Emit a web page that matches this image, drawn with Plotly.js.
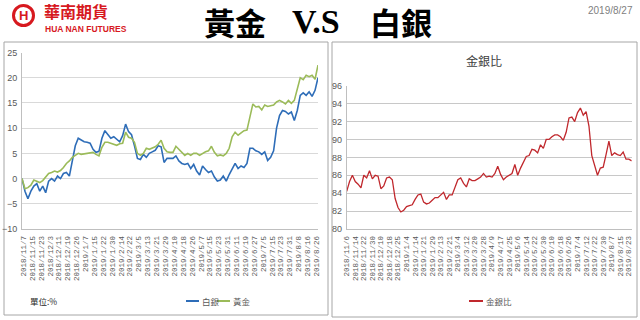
<!DOCTYPE html>
<html>
<head>
<meta charset="utf-8">
<script src="https://cdn.plot.ly/plotly-3.0.1.min.js"></script>
<style>html,body{margin:0;padding:0;background:#fff}#chart{width:640px;height:320px}</style>
</head>
<body>
<div id="chart"></div>
<script>
// ---- data (cumulative % change since 2018/11/6, sampled every 2 trading days) ----
const sampleStep = 2;
const silverPct = [0,-2.5,-4,-2.5,-1.5,-1,-2.5,-1.5,-2.8,-0.5,
  0,-0.5,0.5,0,1,1.2,0.5,3.5,6.5,8,
  7.6,7.3,7.2,7,5.8,5.2,5.4,8,9.5,8.8,
  8,8.3,7.8,7.3,8.5,10.8,9.3,8.7,6.5,4,
  3.8,4.8,4.2,5,5.3,5.6,6.5,6.3,3.2,4,
  4,4,4.5,3.5,3,2.8,3,2,2.8,1.5,
  0.7,2.5,1.8,1.2,1.5,0.3,-0.5,-0.3,0.5,-0.5,
  0.8,2,3,2,2.5,2.2,3,6,6,5.5,
  5.3,4.8,5.3,3.6,4.2,5.5,10,12.5,13.5,13.3,
  12.8,13.2,11.5,13.5,16.5,17,16.5,17.2,16.3,17.5,
  20];
const goldPct = [0,-2,-1.8,-1.3,-0.3,-0.5,-0.8,-0.4,0.3,1,
  1.2,1.5,1.3,1.6,2.2,3,3.5,4.2,4.6,5,
  4.8,4.9,5,5,5.2,4.8,4.5,6.2,7.2,7.2,
  7,6.8,6.6,6.9,7,9.2,8.2,8,7.2,5,
  4.6,5,6,5.8,6,6.3,6.8,7.6,6,5.3,
  5.2,5.2,6.4,5.8,5,4.6,5,4.6,5,5,
  4.6,5,5.3,5.5,6.4,5.2,4.5,4.7,4.5,5,
  6,8.3,9.2,8.6,9,9.5,9.6,12.5,14.8,14.2,
  14.3,13.6,14.6,14.3,14.5,14.6,15.2,15.5,15.2,14.8,
  15.5,14.9,15.5,17.5,20,19.6,20.5,20.2,20.5,19.7,
  22.5];
const goldSilverRatio = [84.2,85.3,86,85.3,85,84.6,86,85.7,86.5,85.6,
  86,85.9,84.5,84.8,85.7,85.8,85.5,83.4,82.4,81.9,
  82.1,82.5,82.6,82.7,83.3,83.8,83.9,83,82.8,82.9,
  83.2,83.5,83.5,83.8,84.1,83.3,83.8,83.8,84.6,85.5,
  85.7,85.1,84.7,85.6,85.4,85.4,85.6,85.8,86.2,85.8,
  85.9,85.8,86.2,87,86.1,85.5,85.8,86,86.2,87.2,
  86,86.8,87.4,88.1,88.2,88.9,88.8,88.5,89.4,89,
  90,90,90.3,90.5,90.5,90.3,89.9,90.8,92.4,92.5,
  92,93,93.5,92.7,93.1,91.5,88.2,87,86,86.8,
  86.9,88.3,89.8,88.2,88.5,88.3,88.2,88.6,87.8,87.8,
  87.6];
const leftTickLabels = ['2018/11/7','2018/11/15','2018/11/23','2018/12/3','2018/12/11','2018/12/19','2018/12/26',
  '2019/1/7','2019/1/15','2019/1/22','2019/1/30','2019/2/14','2019/2/22','2019/3/5','2019/3/13','2019/3/21',
  '2019/3/29','2019/4/10','2019/4/18','2019/4/26','2019/5/7','2019/5/15','2019/5/23','2019/5/31','2019/6/11',
  '2019/6/19','2019/6/27','2019/7/5','2019/7/15','2019/7/23','2019/7/31','2019/8/8','2019/8/16','2019/8/26'];
const rightTickLabels = ['2018/11/6','2018/11/14','2018/11/22','2018/11/30','2018/12/10','2018/12/18','2018/12/25',
  '2019/1/4','2019/1/14','2019/1/21','2019/1/29','2019/2/13','2019/2/21','2019/3/4','2019/3/12','2019/3/20',
  '2019/3/28','2019/4/9','2019/4/17','2019/4/25','2019/5/6','2019/5/14','2019/5/22','2019/5/30','2019/6/10',
  '2019/6/18','2019/6/26','2019/7/4','2019/7/12','2019/7/22','2019/7/30','2019/8/7','2019/8/15','2019/8/23'];
const tickEvery = 6;
const leftTickOffset = 1;
const seriesNames = ['白銀','黃金','金銀比'];

// ---- helpers ----
const W = 640, H = 320;
const px = v => v / W;
const py = v => 1 - v / H;
const idx = arr => arr.map((_, i) => i * sampleStep);

const BLUE = '#2E6DB8', GREEN = '#9BBB59', RED = '#C0282D', LOGORED = '#D7191F';

const traces = [
  {x: idx(silverPct), y: silverPct, name: seriesNames[0], type: 'scatter', mode: 'lines',
   line: {color: BLUE, width: 1.6}, xaxis: 'x', yaxis: 'y', hoverinfo: 'skip'},
  {x: idx(goldPct), y: goldPct, name: seriesNames[1], type: 'scatter', mode: 'lines',
   line: {color: GREEN, width: 1.6}, xaxis: 'x', yaxis: 'y', hoverinfo: 'skip'},
  {x: idx(goldSilverRatio), y: goldSilverRatio, name: seriesNames[2], type: 'scatter', mode: 'lines',
   line: {color: RED, width: 1.3}, xaxis: 'x2', yaxis: 'y2', hoverinfo: 'skip'}
];

const tickFont = {family: 'Liberation Mono, DejaVu Sans Mono, monospace', size: 7.5, color: '#595959'};
const yTickFont = {family: 'Liberation Sans Narrow, Liberation Sans, Arial, sans-serif', size: 9, color: '#595959'};

function txt(text, x, y, font, xanchor) {
  return {text: text, x: px(x), y: py(y), xref: 'paper', yref: 'paper', showarrow: false,
    xanchor: xanchor || 'center', yanchor: 'middle', font: font};
}

const layout = {
  width: W, height: H,
  margin: {l: 0, r: 0, t: 0, b: 0},
  paper_bgcolor: '#ffffff', plot_bgcolor: 'rgba(0,0,0,0)',
  showlegend: false,
  xaxis: {domain: [px(22), px(318)], range: [0, 200], anchor: 'y',
    tickmode: 'array', tickvals: leftTickLabels.map((_, j) => leftTickOffset + j * tickEvery),
    ticktext: leftTickLabels, tickangle: -90, tickfont: tickFont, ticklabelstandoff: 3,
    showgrid: false, zeroline: false, showline: true, linecolor: '#bfbfbf', linewidth: 1, ticks: ''},
  yaxis: {domain: [py(229), py(52.5)], range: [-10, 25], dtick: 5, anchor: 'x',
    tickfont: yTickFont, gridcolor: '#d9d9d9', gridwidth: 1, zeroline: false,
    showline: true, linecolor: '#bfbfbf', linewidth: 1, ticks: '', ticklabelstandoff: 2},
  xaxis2: {domain: [px(346.7), px(631.7)], range: [0, 200], anchor: 'y2',
    tickmode: 'array', tickvals: rightTickLabels.map((_, j) => j * tickEvery),
    ticktext: rightTickLabels, tickangle: -90, tickfont: tickFont, ticklabelstandoff: 3,
    showgrid: false, zeroline: false, showline: true, linecolor: '#bfbfbf', linewidth: 1, ticks: ''},
  yaxis2: {domain: [py(229), py(85.7)], range: [80, 96], dtick: 2, anchor: 'x2',
    tickfont: yTickFont, gridcolor: '#c8c8c8', gridwidth: 1, zeroline: false,
    showline: true, linecolor: '#bfbfbf', linewidth: 1, ticks: '', ticklabelstandoff: 2},
  shapes: [
    {type: 'rect', xref: 'paper', yref: 'paper', x0: px(4), x1: px(328), y0: py(315), y1: py(42),
     line: {color: '#a6a6a6', width: 1}, fillcolor: 'rgba(0,0,0,0)', layer: 'below'},
    {type: 'rect', xref: 'paper', yref: 'paper', x0: px(332), x1: px(637), y0: py(317), y1: py(42),
     line: {color: '#a6a6a6', width: 1}, fillcolor: 'rgba(0,0,0,0)', layer: 'below'},
    {type: 'circle', xref: 'paper', yref: 'paper', x0: px(13.5), x1: px(33.5), y0: py(25.5), y1: py(5.5),
     line: {color: LOGORED, width: 3}, fillcolor: '#ffffff'},
    {type: 'line', xref: 'paper', yref: 'paper', x0: px(186), x1: px(199), y0: py(301), y1: py(301),
     line: {color: BLUE, width: 2}},
    {type: 'line', xref: 'paper', yref: 'paper', x0: px(217), x1: px(230), y0: py(301), y1: py(301),
     line: {color: GREEN, width: 2}},
    {type: 'line', xref: 'paper', yref: 'paper', x0: px(469), x1: px(483), y0: py(301), y1: py(301),
     line: {color: RED, width: 2}}
  ],
  annotations: [
    txt('<b>H</b>', 23.5, 15.5, {family: 'Liberation Sans, Arial', size: 13, color: LOGORED}),
    txt('華南期貨', 42, 11.5, {family: 'Noto Sans CJK TC', size: 16, color: LOGORED, weight: 'bold'}, 'left'),
    txt('HUA NAN FUTURES', 43, 29.5, {family: 'Liberation Sans, Arial', size: 8.5, color: LOGORED, weight: 'bold'}, 'left'),
    txt('黃金', 235, 21, {family: 'Noto Sans CJK TC', size: 31, color: '#000000', weight: 'bold'}),
    txt('V.S', 316, 21, {family: 'Liberation Serif, Times New Roman, serif', size: 34, color: '#000000', weight: 'bold'}),
    txt('白銀', 401, 21, {family: 'Noto Sans CJK TC', size: 31, color: '#000000', weight: 'bold'}),
    txt('2019/8/27', 610, 10, {family: 'Liberation Sans, Arial', size: 10, color: '#808080'}),
    txt('金銀比', 484, 60, {family: 'Noto Sans CJK TC', size: 12, color: '#404040'}),
    txt('單位:%', 28, 301, {family: 'Noto Sans CJK TC', size: 8.5, color: '#262626'}, 'left'),
    txt(seriesNames[0], 200, 301, {family: 'Noto Sans CJK TC', size: 8.5, color: '#595959'}, 'left'),
    txt(seriesNames[1], 231, 301, {family: 'Noto Sans CJK TC', size: 8.5, color: '#595959'}, 'left'),
    txt(seriesNames[2], 484, 301, {family: 'Noto Sans CJK TC', size: 8.5, color: '#595959'}, 'left')
  ]
};

Plotly.newPlot('chart', traces, layout, {staticPlot: true, displayModeBar: false});
</script>
</body>
</html>
